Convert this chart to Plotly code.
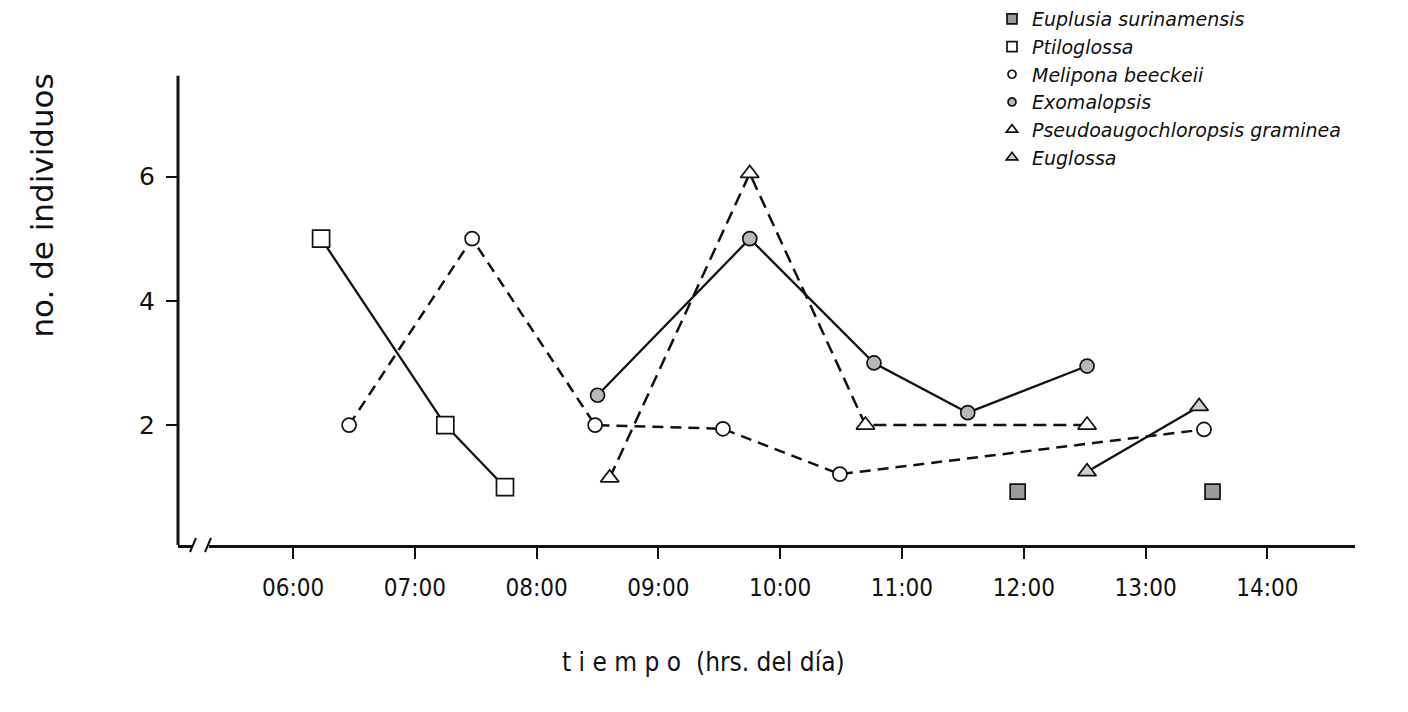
import plotly.graph_objects as go

# ---- data (hours of day as decimals, counts) ----
tick_vals = [6, 7, 8, 9, 10, 11, 12, 13, 14]
tick_text = ["06:00", "07:00", "08:00", "09:00", "10:00", "11:00", "12:00", "13:00", "14:00"]
y_ticks = [2, 4, 6]

euplusia_t = [11.95, 13.55]
euplusia_y = [0.93, 0.93]

ptilo_t = [6.23, 7.25, 7.74]
ptilo_y = [5.0, 2.0, 1.0]

melipona_t = [6.46, 7.47, 8.48, 9.53, 10.49, 13.48]
melipona_y = [2.0, 5.0, 2.0, 1.94, 1.21, 1.93]

exo_t = [8.5, 9.75, 10.77, 11.54, 12.52]
exo_y = [2.48, 5.0, 3.0, 2.2, 2.95]

pseudo_t = [8.6, 9.75, 10.7, 12.52]
pseudo_y = [1.15, 6.05, 2.0, 2.0]

euglossa_t = [12.52, 13.44]
euglossa_y = [1.25, 2.3]

names = ["Euplusia surinamensis", "Ptiloglossa", "Melipona beeckeii",
         "Exomalopsis", "Pseudoaugochloropsis graminea", "Euglossa"]

BLACK = "#111111"
fig = go.Figure()

def mk(symbol, size, fill):
    return dict(symbol=symbol, size=size, color=fill, line=dict(color=BLACK, width=1.7))

# data traces
fig.add_trace(go.Scatter(x=ptilo_t, y=ptilo_y, mode="lines+markers", showlegend=False,
                         line=dict(color=BLACK, width=2.3),
                         marker=mk("square", 17, "white")))
fig.add_trace(go.Scatter(x=melipona_t, y=melipona_y, mode="lines+markers", showlegend=False,
                         line=dict(color=BLACK, width=2.5, dash="11px,7px"),
                         marker=mk("circle", 14, "white")))
fig.add_trace(go.Scatter(x=exo_t, y=exo_y, mode="lines+markers", showlegend=False,
                         line=dict(color=BLACK, width=2.3),
                         marker=mk("circle", 14, "#b8b8b8")))
fig.add_trace(go.Scatter(x=pseudo_t, y=pseudo_y, mode="lines+markers", showlegend=False,
                         line=dict(color=BLACK, width=2.5, dash="13px,7px"),
                         marker=mk("triangle-up", 16, "white")))
fig.add_trace(go.Scatter(x=euglossa_t, y=euglossa_y, mode="lines+markers", showlegend=False,
                         line=dict(color=BLACK, width=2.3),
                         marker=mk("triangle-up", 16, "#d0d0d0")))
fig.add_trace(go.Scatter(x=euplusia_t, y=euplusia_y, mode="markers", showlegend=False,
                         marker=mk("square", 15, "#9a9a9a")))

# legend-only entries (markers only, as in the original key)
leg_markers = [mk("square", 10, "#9a9a9a"), mk("square", 10, "white"), mk("circle", 8, "white"),
               mk("circle", 8, "#b8b8b8"), mk("triangle-up", 10, "white"), mk("triangle-up", 10, "#d0d0d0")]
for n, m in zip(names, leg_markers):
    fig.add_trace(go.Scatter(x=[None], y=[None], mode="markers", name=n, marker=m, showlegend=True))

# plot area spans the whole top so the key sits inside it (no margin push)
L, R, T, B = 178, 53, 0, 167
W, H = 1408, 712
pw, ph = W - L - R, H - T - B
PX_PER_UNIT = 62.25
Y0 = 0.07
Y1 = Y0 + ph / PX_PER_UNIT
Y_AXIS_TOP = 7.62

def px_x(p):
    return (p - L) / pw

def px_y(p):
    return (H - B - p) / ph

FONT = "DejaVu Sans Condensed, DejaVu Sans, Liberation Sans, sans-serif"

fig.update_layout(
    width=W, height=H,
    margin=dict(l=L, r=R, t=T, b=B, pad=0),
    paper_bgcolor="white", plot_bgcolor="white",
    font=dict(family=FONT, color=BLACK),
    xaxis=dict(range=[5.055, 14.72], tickmode="array", tickvals=tick_vals, ticktext=tick_text,
               showgrid=False, zeroline=False, showline=True, linecolor=BLACK, linewidth=3,
               ticks="outside", ticklen=11, tickwidth=1.5, tickcolor=BLACK,
               tickfont=dict(size=24, family=FONT, color=BLACK), ticklabelstandoff=8),
    yaxis=dict(range=[Y0, Y1], tickmode="array", tickvals=y_ticks,
               showgrid=False, zeroline=False, showline=False,
               ticks="outside", ticklen=11, tickwidth=1.5, tickcolor=BLACK,
               tickfont=dict(size=25, family="DejaVu Sans, sans-serif", color=BLACK),
               ticklabelstandoff=6),
    legend=dict(x=px_x(992), y=px_y(-1), xanchor="left", yanchor="top",
                bgcolor="rgba(0,0,0,0)", tracegroupgap=0, itemsizing="trace",
                font=dict(size=19, family="DejaVu Sans, sans-serif", style="italic", color=BLACK)),
    showlegend=True,
)

# y axis line (stops below the key area, as in the original)
fig.add_shape(type="line", xref="paper", yref="y", x0=0, x1=0, y0=Y0, y1=Y_AXIS_TOP,
              line=dict(color=BLACK, width=3))

# axis title annotations
fig.add_annotation(xref="paper", yref="paper", x=px_x(42), y=px_y(205), text="no. de individuos",
                   textangle=-90, showarrow=False, xanchor="center", yanchor="middle",
                   font=dict(size=31, family="DejaVu Sans, sans-serif", color=BLACK))
fig.add_annotation(xref="paper", yref="paper", x=px_x(703), y=px_y(662),
                   text="t i e m p o  (hrs. del día)", showarrow=False,
                   xanchor="center", yanchor="middle",
                   font=dict(size=26, family=FONT, color=BLACK))

# axis break marks on the x axis
fig.add_shape(type="rect", xref="paper", yref="paper", x0=px_x(193), x1=px_x(209),
              y0=px_y(540), y1=px_y(551), fillcolor="white", line=dict(width=0), layer="above")
for x0 in (190, 205):
    fig.add_shape(type="line", xref="paper", yref="paper", x0=px_x(x0), x1=px_x(x0 + 6),
                  y0=px_y(552), y1=px_y(538), line=dict(color=BLACK, width=2), layer="above")

fig.write_html("out.html")
